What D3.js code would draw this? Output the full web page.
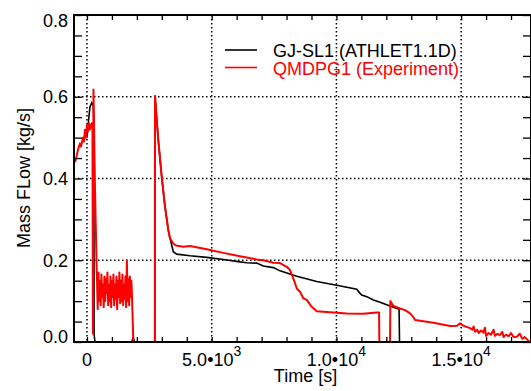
<!DOCTYPE html>
<html>
<head>
    <title>Mass flow GJ-SL1 vs QMDPG1</title>
    <script src="https://cdnjs.cloudflare.com/ajax/libs/d3/7.8.5/d3.min.js"></script>
    <style>
        body { margin: 0; background: #fff; }
        text { font-family: "Liberation Sans", Arial, sans-serif; }
    </style>
</head>
<body>
    <div id="vis"></div>

    <script>
        // ATHLET calculation (black)
        var athletTime = [0, 60, 120, 190, 250, 275, 285, 320, 1800, 1850, 1900, 2720, 2727,
            2859, 2995, 3128, 3260, 3328, 3461, 3597, 4130, 4800, 5466, 6135, 6404, 6805,
            7070, 7471, 7739, 8409, 9211, 10013, 10815, 10947, 11015, 11216, 11481, 11749,
            12150, 12511, 12530, 17800];
        var athletFlow = [0.50, 0.54, 0.575, 0.585, 0.578, 0.55, 0.02, 0.0, 0.0, 0.012, 0.0, 0.0, 0.603,
            0.494, 0.405, 0.331, 0.274, 0.254, 0.221, 0.215, 0.211, 0.207, 0.202, 0.196, 0.194, 0.193,
            0.186, 0.182, 0.174, 0.161, 0.148, 0.139, 0.129, 0.119, 0.115, 0.111, 0.103, 0.097,
            0.088, 0.080, 0.0, 0.0];

        // experiment QMDPG1 (red)
        var expTime = [-480, -441, -361, -281, -240, -160, -120, -80, -40, 0, 40, 80, 120, 188, 220, 240, 260, 320, 361, 390,
            400, 430, 460, 490, 520, 550, 580, 610, 640, 670, 700, 730, 760, 790, 820, 850, 880, 910, 940, 970,
            1000, 1030, 1060, 1090, 1120, 1150, 1180, 1210, 1240, 1270, 1300, 1330, 1360, 1390, 1420, 1450,
            1480, 1510, 1540, 1570, 1600, 1630, 1660, 1690, 1720, 1750, 1780, 1800, 1860, 2720, 2727,
            2859, 2995, 3128, 3260, 3328, 3461, 3569, 3862, 4130, 4800, 5466, 6135, 6805, 7070, 7471, 7739,
            8008, 8140, 8273, 8341, 8409, 8541, 8674, 8810, 9010, 9211, 9744, 10414, 11080, 11617, 11709,
            11721, 12150, 12162, 12283, 12551, 12752, 12952, 13073, 13153, 13353, 13887, 14556, 14837, 14957,
            15078, 15358, 15450, 15500, 15560, 15650, 15700, 15800, 15892, 15950, 16000, 16100, 16200, 16300,
            16350, 16450, 16561, 16650, 16700, 16800, 16900, 17000, 17100, 17231, 17350, 17450, 17550, 17632, 17750];
        var expFlow = [0.44, 0.447, 0.47, 0.486, 0.478, 0.50, 0.49, 0.519, 0.50, 0.53, 0.515, 0.535, 0.52, 0.535, 0.535, 0.02, 0.618, 0.38, 0.26, 0.17,
            0.16, 0.08, 0.17, 0.10, 0.15, 0.09, 0.165, 0.11, 0.14, 0.085, 0.16, 0.10, 0.155, 0.12, 0.17, 0.09, 0.14, 0.10, 0.16, 0.085,
            0.15, 0.11, 0.165, 0.09, 0.14, 0.105, 0.16, 0.08, 0.15, 0.11, 0.17, 0.095, 0.15, 0.10, 0.165, 0.09,
            0.14, 0.105, 0.16, 0.085, 0.20, 0.10, 0.155, 0.09, 0.16, 0.11, 0.15, 0.12, 0.0, 0.0, 0.602,
            0.494, 0.405, 0.331, 0.274, 0.254, 0.241, 0.236, 0.233, 0.235, 0.227, 0.218, 0.210, 0.202, 0.200, 0.194, 0.193,
            0.184, 0.176, 0.155, 0.144, 0.131, 0.123, 0.107, 0.103, 0.086, 0.075, 0.073, 0.070, 0.069, 0.072, 0.072,
            0.0, 0.0, 0.10, 0.088, 0.082, 0.078, 0.070, 0.062, 0.054, 0.052, 0.047, 0.039, 0.040, 0.046,
            0.040, 0.034, 0.030, 0.038, 0.025, 0.030, 0.022, 0.028, 0.023, 0.035, 0.015, 0.022, 0.018, 0.030,
            0.015, 0.020, 0.017, 0.025, 0.012, 0.018, 0.014, 0.022, 0.012, 0.013, 0.020, 0.008, 0.012, 0.007, 0.0];

        var seriesNames = ["GJ-SL1 (ATHLET1.1D)", "QMDPG1 (Experiment)"];
        var seriesColors = ["#000000", "#ff0000"];

        var xMajor = [0, 5000, 10000, 15000];
        var xLabels = [["0", ""], ["5.0\u202210", "3"], ["1.0\u202210", "4"], ["1.5\u202210", "4"]];
        var yMajor = [0.0, 0.2, 0.4, 0.6, 0.8];
        var yLabels = ["0.0", "0.2", "0.4", "0.6", "0.8"];

        var W = 531, H = 391;
        // plot box ("top" is taken by window.top, so prefix everything)
        var pL = 74, pR = 531, pT = 15, pB = 342;

        var x = d3.scaleLinear().domain([-520, 17800]).range([pL, pR]);
        var y = d3.scaleLinear().domain([0, 0.8]).range([pB, pT]);

        var vis = d3.select("#vis").append("svg")
            .attr("width", W)
            .attr("height", H);

        vis.append("clipPath").attr("id", "plotclip")
            .append("rect")
            .attr("x", pL).attr("y", pT)
            .attr("width", pR - pL).attr("height", pB - pT);

        // dotted grid
        var grid = vis.append("g")
            .attr("stroke", "#000")
            .attr("stroke-width", 1.5)
            .attr("stroke-dasharray", "1.5,2.5");
        grid.selectAll(".gx").data(xMajor).enter().append("line")
            .attr("x1", d => x(d)).attr("x2", d => x(d))
            .attr("y1", pT).attr("y2", pB);
        grid.selectAll(".gy").data([0.2, 0.4, 0.6]).enter().append("line")
            .attr("x1", pL).attr("x2", pR)
            .attr("y1", d => y(d)).attr("y2", d => y(d));

        // data lines
        var line = d3.line()
            .x(d => x(d[0]))
            .y(d => y(d[1]));
        var plot = vis.append("g").attr("clip-path", "url(#plotclip)");

        plot.append("path")
            .datum(d3.zip(athletTime, athletFlow))
            .attr("d", line)
            .attr("fill", "none")
            .attr("stroke", seriesColors[0])
            .attr("stroke-width", 1.6);

        plot.append("path")
            .datum(d3.zip(expTime, expFlow))
            .attr("d", line)
            .attr("fill", "none")
            .attr("stroke", seriesColors[1])
            .attr("stroke-width", 2)
            .attr("stroke-linejoin", "round");

        // axes: inward ticks on all four sides
        var xMinor = d3.range(0, 18000, 1000);
        var yMinor = d3.range(0, 0.81, 0.05);

        vis.append("g").attr("transform", "translate(0," + pB + ")")
            .call(d3.axisTop(x).tickValues(xMinor).tickSize(5).tickFormat(""));
        vis.append("g").attr("transform", "translate(0," + pT + ")")
            .call(d3.axisBottom(x).tickValues(xMinor).tickSize(5).tickFormat(""));
        vis.append("g").attr("transform", "translate(" + pL + ",0)")
            .call(d3.axisRight(y).tickValues(yMinor).tickSize(8).tickFormat(""));
        vis.append("g").attr("transform", "translate(" + pR + ",0)")
            .call(d3.axisLeft(y).tickValues(yMinor).tickSize(8).tickFormat(""));
        vis.selectAll(".domain").remove();
        vis.selectAll(".tick line").attr("stroke", "#000").attr("stroke-width", 1.3);

        vis.append("rect")
            .attr("x", pL).attr("y", pT)
            .attr("width", pR - pL).attr("height", pB - pT)
            .attr("fill", "none")
            .attr("stroke", "#000")
            .attr("stroke-width", 2);

        // y tick labels (end labels kept inside the axis range)
        vis.selectAll(".ylab").data(yMajor).enter().append("text")
            .attr("x", 68)
            .attr("y", function(d) {
                var p = y(d);
                if (p < pT + 6) p = pT + 6;
                if (p > pB - 5) p = pB - 5;
                return p;
            })
            .attr("dy", "0.35em")
            .attr("text-anchor", "end")
            .attr("font-size", 18)
            .text((d, i) => yLabels[i]);

        // x tick labels with superscript exponent
        var xl = vis.selectAll(".xlab").data(xMajor).enter().append("text")
            .attr("x", d => x(d))
            .attr("y", 366)
            .attr("text-anchor", "middle")
            .attr("font-size", 18);
        xl.append("tspan").text((d, i) => xLabels[i][0]);
        xl.append("tspan")
            .attr("font-size", 14)
            .attr("dy", -10)
            .text((d, i) => xLabels[i][1]);

        vis.append("text")
            .attr("x", (pL + pR) / 2 + 3)
            .attr("y", 382)
            .attr("text-anchor", "middle")
            .attr("font-size", 18)
            .text("Time [s]");

        vis.append("text")
            .attr("transform", "translate(30,178) rotate(-90)")
            .attr("text-anchor", "middle")
            .attr("font-size", 18)
            .text("Mass FLow [kg/s]");

        // legend
        var legend = vis.selectAll(".leg").data(seriesNames).enter().append("g")
            .attr("transform", (d, i) => "translate(225," + (50 + i * 17.5) + ")");
        legend.append("line")
            .attr("x1", 0).attr("x2", 32)
            .attr("stroke", (d, i) => seriesColors[i])
            .attr("stroke-width", 1.6);
        legend.append("text")
            .attr("x", 48).attr("y", 7)
            .attr("font-size", 18)
            .attr("fill", (d, i) => seriesColors[i])
            .text(d => d);
    </script>
</body>
</html>
